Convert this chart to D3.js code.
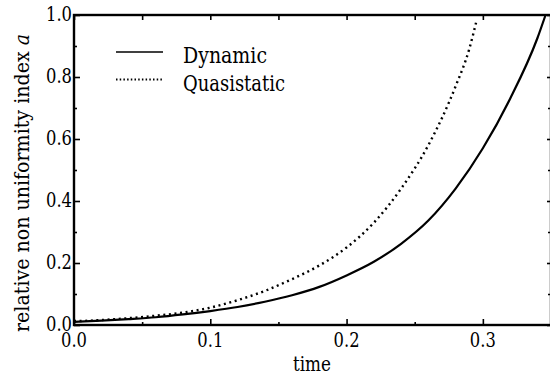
<!DOCTYPE html>
<html>
<head>
  <meta charset="utf-8">
  <title>Non uniformity index</title>
  <style>
    body { margin: 0; background: #fff; }
  </style>
</head>
<body>
  <svg id="svg"></svg>

  <script src="https://cdn.jsdelivr.net/npm/d3@7"></script>

  <script>
    // values
    let dynT = [0, 0.02, 0.04, 0.06, 0.08, 0.10, 0.12, 0.14, 0.16, 0.18, 0.20, 0.22, 0.24, 0.26, 0.28, 0.30, 0.32, 0.34, 0.346];
    let dynA = [0.010, 0.014, 0.019, 0.025, 0.034, 0.045, 0.058, 0.075, 0.096, 0.123, 0.160, 0.204, 0.262, 0.337, 0.440, 0.570, 0.730, 0.925, 1.0];
    let quasiT = [0, 0.02, 0.04, 0.06, 0.08, 0.10, 0.12, 0.14, 0.16, 0.18, 0.20, 0.22, 0.24, 0.26, 0.28, 0.29, 0.295];
    let quasiA = [0.012, 0.016, 0.022, 0.030, 0.040, 0.056, 0.080, 0.110, 0.148, 0.192, 0.250, 0.330, 0.440, 0.580, 0.770, 0.890, 0.975];

    let xTicks = [0, 0.1, 0.2, 0.3];
    let xMinor = [0.05, 0.15, 0.25];
    let yTicks = [0, 0.2, 0.4, 0.6, 0.8, 1.0];
    let yMinor = [0.1, 0.3, 0.5, 0.7, 0.9];

    let seriesNames = ["Dynamic", "Quasistatic"];
    let legendWidths = [84, 102];

    let width = 550, height = 378;
    let margin = { top: 15, left: 74, bottom: 53 };
    let font = "DejaVu Serif";

    let svg = d3.select("#svg").attr("width", width).attr("height", height)
      .style("font-family", font);

    let xScale = d3.scaleLinear().domain([0, 0.35]).range([margin.left, 551]);
    let yScale = d3.scaleLinear().domain([0, 1]).range([height - margin.bottom, margin.top]);

    let x0 = xScale(0), x1 = xScale(0.35);
    let y0 = yScale(0), y1 = yScale(1);

    // curves
    let line = d3.line().x(d => xScale(d[0])).y(d => yScale(d[1])).curve(d3.curveMonotoneX);
    let dynData = dynT.map((t, i) => [t, dynA[i]]);
    let quasiData = quasiT.map((t, i) => [t, quasiA[i]]);

    svg.append("path").datum(dynData)
      .attr("d", line).attr("fill", "none").attr("stroke", "#000").attr("stroke-width", 2.2);
    svg.append("path").datum(quasiData)
      .attr("d", line).attr("fill", "none").attr("stroke", "#000")
      .attr("stroke-width", 2.4).attr("stroke-dasharray", "2,3.6");

    // axes: ticks point inward, labels added separately
    let axisStyle = g => {
      g.select(".domain").remove();
      g.selectAll(".tick line").attr("stroke", "#000").attr("stroke-width", 1.6);
      g.selectAll("text").remove();
    };

    let allX = xTicks.concat(xMinor);
    svg.append("g").attr("transform", `translate(0, ${y0})`)
      .call(d3.axisTop(xScale).tickValues(xTicks).tickSize(6)).call(axisStyle);
    svg.append("g").attr("transform", `translate(0, ${y0})`)
      .call(d3.axisTop(xScale).tickValues(xMinor).tickSize(3)).call(axisStyle);
    svg.append("g").attr("transform", `translate(0, ${y1})`)
      .call(d3.axisBottom(xScale).tickValues(allX).tickSize(5)).call(axisStyle);

    svg.append("g").attr("transform", `translate(${x0}, 0)`)
      .call(d3.axisRight(yScale).tickValues(yTicks).tickSize(6)).call(axisStyle);
    svg.append("g").attr("transform", `translate(${x0}, 0)`)
      .call(d3.axisRight(yScale).tickValues(yMinor).tickSize(3)).call(axisStyle);
    svg.append("g").attr("transform", `translate(${x1}, 0)`)
      .call(d3.axisLeft(yScale).tickValues(yTicks).tickSize(4)).call(axisStyle);
    svg.append("g").attr("transform", `translate(${x1}, 0)`)
      .call(d3.axisLeft(yScale).tickValues(yMinor).tickSize(3)).call(axisStyle);

    // frame
    svg.append("rect")
      .attr("x", x0).attr("y", y1)
      .attr("width", x1 - x0).attr("height", y0 - y1)
      .attr("fill", "none").attr("stroke", "#000").attr("stroke-width", 2.4);

    // tick labels (DejaVu Serif squeezed to the narrower width of the original face)
    svg.selectAll(".xlab").data(xTicks).join("text")
      .attr("x", d => xScale(d)).attr("y", y0 + 22)
      .attr("text-anchor", "middle").attr("font-size", 21)
      .attr("textLength", 26).attr("lengthAdjust", "spacingAndGlyphs")
      .text(d => d3.format(".1f")(d));
    svg.selectAll(".ylab").data(yTicks).join("text")
      .attr("x", x0 - 2).attr("y", d => yScale(d) + 6)
      .attr("text-anchor", "end").attr("font-size", 21)
      .attr("textLength", 26).attr("lengthAdjust", "spacingAndGlyphs")
      .text(d => d3.format(".1f")(d));

    // axis titles
    svg.append("text")
      .attr("x", 312).attr("y", 371)
      .attr("text-anchor", "middle").attr("font-size", 21)
      .attr("textLength", 38).attr("lengthAdjust", "spacingAndGlyphs")
      .text("time");

    let yTitle = svg.append("text")
      .attr("transform", `translate(29, 183) rotate(-90)`)
      .attr("text-anchor", "middle").attr("font-size", 21)
      .attr("textLength", 298).attr("lengthAdjust", "spacingAndGlyphs");
    yTitle.append("tspan").text("relative non uniformity index ");
    yTitle.append("tspan").attr("font-style", "italic").text("a");

    // legend
    let legend = svg.append("g");
    seriesNames.forEach((name, i) => {
      let ly = 52 + i * 27.5;
      legend.append("line")
        .attr("x1", 116).attr("x2", 163).attr("y1", ly).attr("y2", ly)
        .attr("stroke", "#000").attr("stroke-width", i === 0 ? 1.6 : 1.8)
        .attr("stroke-dasharray", i === 0 ? null : "1.5,2.2");
      legend.append("text")
        .attr("x", 183).attr("y", ly + 11)
        .attr("font-size", 22)
        .attr("textLength", legendWidths[i]).attr("lengthAdjust", "spacingAndGlyphs")
        .text(name);
    });
  </script>
</body>
</html>
